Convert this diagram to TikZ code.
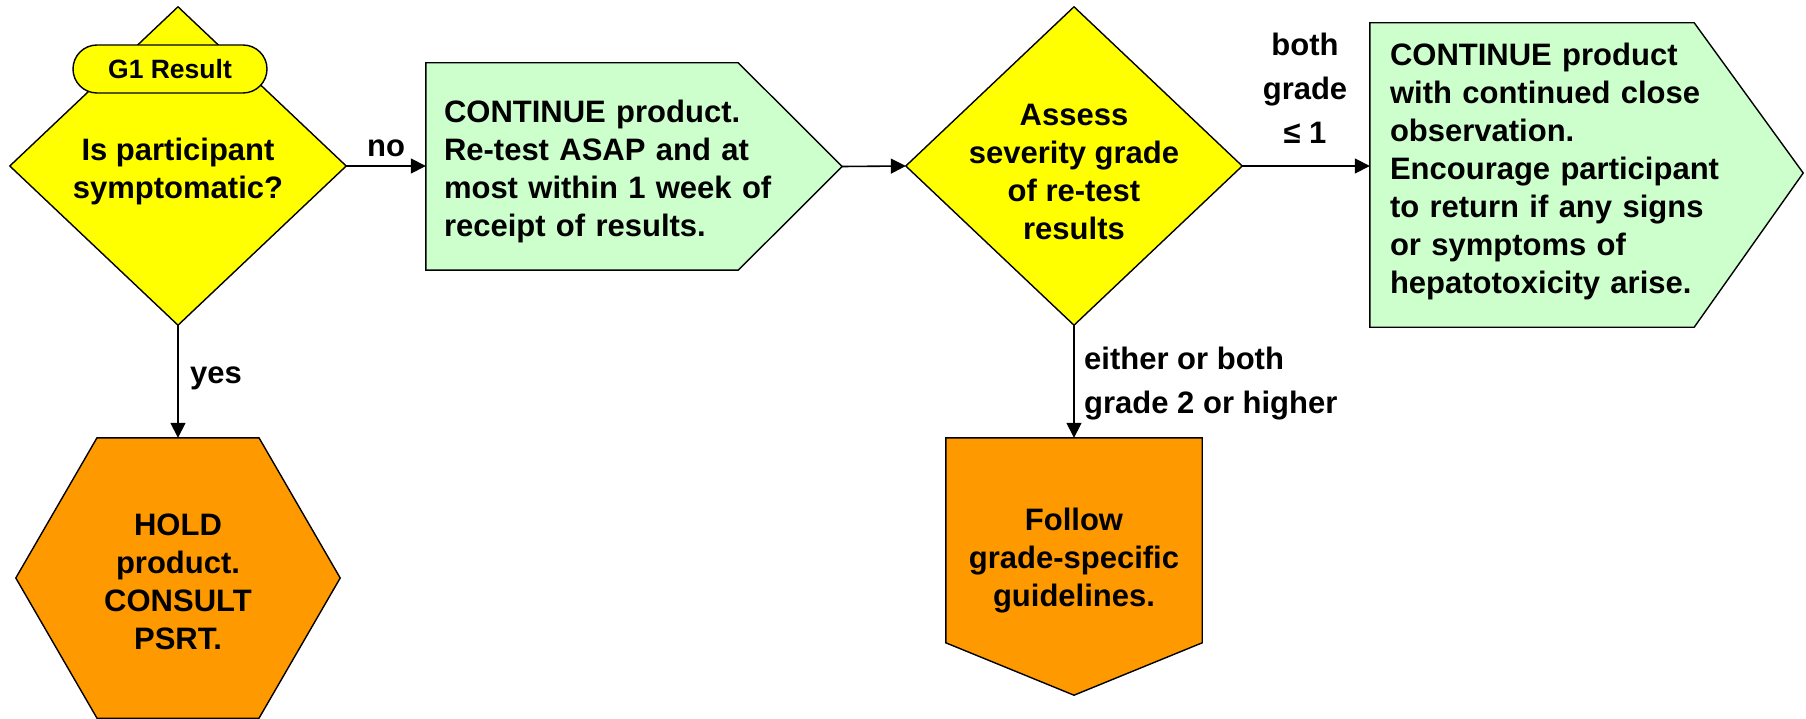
\documentclass[tikz,border=0pt]{standalone}
\usepackage{fontspec}
\setmainfont{Liberation Sans}
\usetikzlibrary{arrows.meta,calc,backgrounds}

\definecolor{decyellow}{HTML}{FFFF00}
\definecolor{actgreen}{HTML}{CCFFCC}
\definecolor{actorange}{HTML}{FF9900}

% invisible strut that lowers a text block inside its frame
\newcommand{\lowerby}[1]{\rule{0pt}{\dimexpr 22.6pt + 2\dimexpr #1pt\relax\relax}}

\tikzset{
  txt/.style={font=\fontsize{31}{38}\selectfont\bfseries, inner sep=0pt},
  frame/.style={txt, rectangle, minimum width=#1},
  shapeline/.style={draw=black, line width=1.4pt, line join=miter},
  flow/.style={draw=black, line width=1.6pt, -{Triangle[length=15pt,width=15pt]}},
  lbl/.style={font=\fontsize{31}{44}\selectfont\bfseries, inner sep=0pt},
  pill/.style={draw=black, line width=1.4pt, fill=decyellow, rounded corners=24pt,
    minimum width=194pt, minimum height=48pt, inner sep=0pt,
    font=\fontsize{26.5}{30}\selectfont\bfseries}
}

\begin{document}
\begin{tikzpicture}[x=1pt,y=-1pt]
  \useasboundingbox (0,0) rectangle (1806,719);

  % text-carrying frames; each outline is drawn from these anchors
  \node[frame=336pt, minimum height=318pt, align=center] (d1) at (178,166)
    {\lowerby{5}Is participant\\symptomatic?};
  \node[frame=416pt, minimum height=207pt, text width=380pt, align=left] (b2) at (634,166.5)
    {\lowerby{5}CONTINUE product.\\Re-test ASAP and at\\most within 1 week of\\receipt of results.};
  \node[frame=336pt, minimum height=318pt, align=center] (d2) at (1074,166)
    {\lowerby{5.5}Assess\\severity grade\\of re-test\\results};
  \node[frame=433pt, minimum height=290pt, text width=393pt, align=left] (b3) at (1586.5,168)
    {\lowerby{3}CONTINUE product\\with continued close\\observation.\\Encourage participant\\to return if any signs\\or symptoms of\\hepatotoxicity arise.};
  \node[frame=324pt, minimum height=280pt, align=center] (hx) at (178,578)
    {\lowerby{3}HOLD\\product.\\CONSULT\\PSRT.};
  \node[frame=256pt, minimum height=238pt, align=center] (pg) at (1074,557)
    {\lowerby{3.5}Follow\\grade-specific\\guidelines.};

  \begin{scope}[on background layer]
    \fill[white] (0,0) rectangle (1806,719);
    % decision diamonds
    \path[shapeline, fill=decyellow] (d1.north) -- (d1.east) -- (d1.south) -- (d1.west) -- cycle;
    \path[shapeline, fill=decyellow] (d2.north) -- (d2.east) -- (d2.south) -- (d2.west) -- cycle;
    % pointed action boxes
    \path[shapeline, fill=actgreen] (b2.north west) -- ($(b2.north east)+(-104,0)$) -- (b2.east)
      -- ($(b2.south east)+(-104,0)$) -- (b2.south west) -- cycle;
    \path[shapeline, fill=actgreen] (b3.north west) -- ($(b3.north east)+(-109,0)$) -- ($(b3.east)+(0,5)$)
      -- ($(b3.south east)+(-109,14)$) -- ($(b3.south west)+(0,14)$) -- cycle;
    % hold hexagon
    \path[shapeline, fill=actorange] (hx.west) -- ($(hx.north)+(-81,0)$) -- ($(hx.north)+(81,0)$)
      -- (hx.east) -- ($(hx.south)+(81,0)$) -- ($(hx.south)+(-81,0)$) -- cycle;
    % downward pentagon
    \path[shapeline, fill=actorange] (pg.north west) -- (pg.north east) -- ($(pg.north east)+(0,205)$)
      -- ($(pg.south)+(0,19)$) -- ($(pg.north west)+(0,205)$) -- cycle;
  \end{scope}

  \node[pill] (tag) at (170,69) {G1 Result};

  % connectors
  \draw[flow] (d1.east) -- (d1.east -| b2.west);
  \draw[flow] (b2.east) -- (d2.west);
  \draw[flow] (d2.east) -- (d2.east -| b3.west);
  \draw[flow] (d1.south) -- (hx.north);
  \draw[flow] (d2.south) -- (pg.north);

  % branch labels
  \node[lbl, anchor=base west] (lno) at (367,157) {no};
  \node[lbl, anchor=base west] (lyes) at (190,383) {yes};
  \node[lbl, align=center] (lle) at (1305,88) {both\\grade\\≤ 1};
  \node[lbl, align=left, anchor=west] (lge) at (1084,383.5) {either or both\\grade 2 or higher};
\end{tikzpicture}
\end{document}
